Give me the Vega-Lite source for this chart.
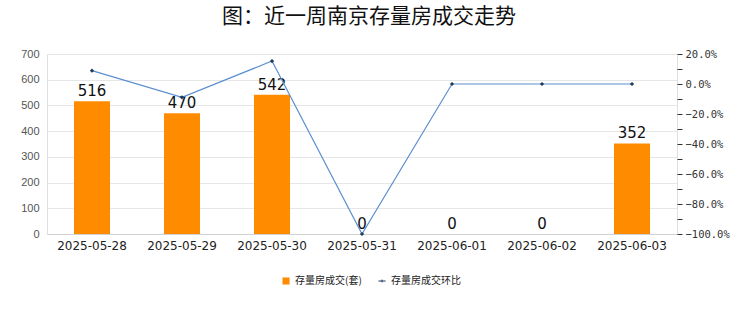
{
  "$schema": "https://vega.github.io/schema/vega-lite/v6.json",
  "autosize": "none",
  "width": 630,
  "height": 180,
  "padding": {"left": 47, "top": 54, "right": 63, "bottom": 78},
  "background": "white",
  "config": {
    "font": "Noto Sans CJK SC",
    "view": {"stroke": "#e0e0e0"}
  },
  "title": {
    "text": "图：近一周南京存量房成交走势",
    "fontSize": 21,
    "fontWeight": "normal",
    "color": "#111111",
    "anchor": "middle",
    "frame": "group",
    "dx": 7,
    "offset": 21
  },
  "data": {
    "values": [
      {"date": "2025-05-28", "count": 516, "ratio": 0.089},
      {"date": "2025-05-29", "count": 470, "ratio": -0.089},
      {"date": "2025-05-30", "count": 542, "ratio": 0.153},
      {"date": "2025-05-31", "count": 0, "ratio": -1.0},
      {"date": "2025-06-01", "count": 0, "ratio": 0},
      {"date": "2025-06-02", "count": 0, "ratio": 0},
      {"date": "2025-06-03", "count": 352, "ratio": 0}
    ]
  },
  "encoding": {
    "x": {
      "field": "date",
      "type": "ordinal",
      "scale": {"paddingInner": 0.6, "paddingOuter": 0.3},
      "axis": {
        "title": null,
        "labelAngle": 0,
        "labelFontSize": 12,
        "labelColor": "#222222",
        "labelFont": "DejaVu Sans",
        "ticks": false,
        "domain": true,
        "domainColor": "#d0d0d0",
        "labelPadding": 6
      }
    }
  },
  "layer": [
    {
      "encoding": {
        "y": {
          "field": "count",
          "type": "quantitative",
          "scale": {"domain": [0, 700]},
          "axis": {
            "title": null,
            "values": [0, 100, 200, 300, 400, 500, 600, 700],
            "tickCount": 8,
            "labelOverlap": false,
            "labelBound": false,
            "labelFlush": false,
            "labelFontSize": 11,
            "labelColor": "#555555",
            "labelFont": "Liberation Sans",
            "ticks": false,
            "domain": false,
            "gridColor": "#e6e6e6",
            "labelPadding": 8
          }
        }
      },
      "layer": [
        {
          "mark": {"type": "bar", "color": "#ff8c00"},
          "encoding": {
            "color": {
              "datum": "存量房成交(套)",
              "type": "nominal",
              "scale": {"domain": ["存量房成交(套)", "存量房成交环比"], "range": ["#ff8c00", "#4a7ebb"]},
              "legend": {
                "title": null,
                "orient": "none",
                "legendX": 234,
                "legendY": 222,
                "direction": "horizontal",
                "labelFontSize": 10,
                "labelColor": "#222222",
                "symbolSize": 50,
                "columnPadding": 14,
                "encode": {
                  "symbols": {
                    "update": {
                      "shape": {"signal": "datum.value === '存量房成交环比' ? 'M-1,0L1,0M0,-0.4L0,0.4' : 'square'"},
                      "stroke": {"signal": "datum.value === '存量房成交环比' ? '#1f3b5b' : null"},
                      "strokeWidth": {"value": 1}
                    }
                  }
                }
              }
            }
          }
        },
        {
          "mark": {"type": "text", "baseline": "bottom", "dy": -2, "fontSize": 15, "color": "#111111", "font": "DejaVu Sans"},
          "encoding": {
            "text": {"field": "count", "type": "quantitative"}
          }
        }
      ]
    },
    {
      "encoding": {
        "y": {
          "field": "ratio",
          "type": "quantitative",
          "scale": {"domain": [-1, 0.2]},
          "axis": {
            "title": null,
            "orient": "right",
            "values": [-1, -0.9, -0.8, -0.7, -0.6, -0.5, -0.4, -0.3, -0.2, -0.1, 0, 0.1, 0.2],
            "tickCount": 13,
            "labelExpr": "abs(round(datum.value * 100)) % 20 == 0 ? format(datum.value, '.1%') : ''",
            "labelOverlap": false,
            "labelBound": false,
            "labelFlush": false,
            "labelFontSize": 10.5,
            "labelColor": "#333333",
            "labelFont": "DejaVu Sans Mono",
            "ticks": true,
            "tickSize": 5,
            "tickColor": "#333333",
            "domain": false,
            "grid": false,
            "labelPadding": 3
          }
        }
      },
      "layer": [
        {
          "mark": {"type": "line", "color": "#5b8fd0", "strokeWidth": 1.2}
        },
        {
          "mark": {"type": "point", "shape": "diamond", "filled": true, "size": 18, "color": "#1f3b5b", "opacity": 1}
        }
      ]
    }
  ],
  "resolve": {"scale": {"y": "independent"}}
}
